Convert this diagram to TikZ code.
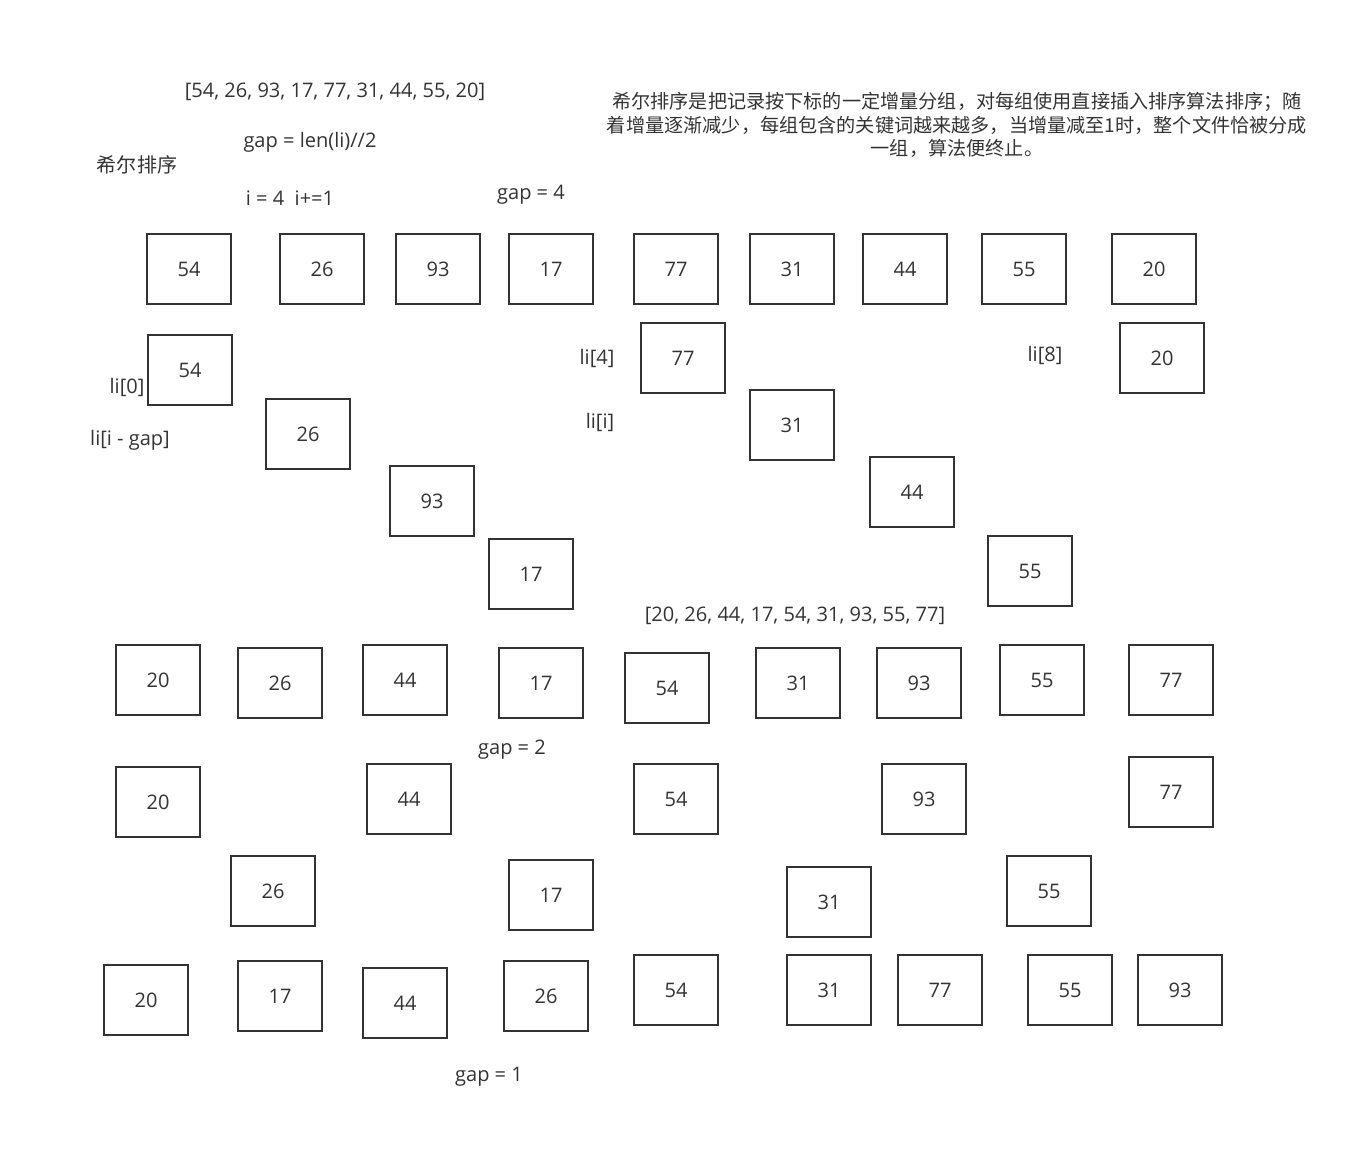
\documentclass[tikz,border=0pt]{standalone}
\usepackage{fontspec}
\setmainfont{Open Sans}
\newfontfamily\cjk{Noto Sans CJK SC}
\usetikzlibrary{positioning}
\definecolor{ink}{HTML}{333333}

\begin{document}
\begin{tikzpicture}[x=0.02cm, y=-0.02cm, font=\fontsize{11.4}{13.4}\selectfont, text=ink,
	numbox/.style={rectangle, draw=ink, line width=0.75pt, minimum width=1.68cm, minimum height=1.4cm, inner sep=0pt},
	lbl/.style={inner sep=0pt, yshift=-0.04cm}]
	\useasboundingbox (0,0) rectangle (1368,1156);
	% headings
	\node[lbl] (list1) at (335,90) {[54, 26, 93, 17, 77, 31, 44, 55, 20]};
	\node[lbl] (gaplen) at (310,140) {gap = len(li)//2};
	\node[lbl] (title) at (137,163) {\cjk 希尔排序};
	\node[lbl] (istep) at (290,196) {i = 4\ \ i+=1};
	\node[lbl] (gap4) at (531,193) {gap = 4};
	\node[lbl, align=center, font=\cjk\fontsize{10.9}{13.4}\selectfont] (desc) at (957,123)
		{希尔排序是把记录按下标的一定增量分组，对每组使用直接插入排序算法排序；随\\
		 着增量逐渐减少，每组包含的关键词越来越多，当增量减至1时，整个文件恰被分成\\
		 一组，算法便终止。};
	% first row
	\foreach \v/\x in {54/189, 26/322, 93/438, 17/551, 77/676, 31/792, 44/905, 55/1024, 20/1154}
		\node[numbox] (ra\v) at (\x,269) {\v};
	% groups for gap = 4
	\foreach \v/\x/\y in {54/190/370, 26/308/434, 93/432/501, 17/531/574, 77/683/358,
		31/792/425, 44/912/492, 55/1030/571, 20/1162/358}
		\node[numbox] (rb\v) at (\x,\y) {\v};
	\node[lbl] (li0) at (127,385) {li[0]};
	\node[lbl] (ligap) at (130,438) {li[i - gap]};
	\node[lbl] (li4) at (597,356) {li[4]};
	\node[lbl] (lii) at (600,420) {li[i]};
	\node[lbl] (li8) at (1045,353) {li[8]};
	\node[lbl] (list2) at (795,614) {[20, 26, 44, 17, 54, 31, 93, 55, 77]};
	% after gap = 4
	\foreach \v/\x/\y in {20/158/680, 26/280/683, 44/405/680, 17/541/683, 54/667/688,
		31/798/683, 93/919/683, 55/1042/680, 77/1171/680}
		\node[numbox] (rc\v) at (\x,\y) {\v};
	\node[lbl] (gap2) at (512,748) {gap = 2};
	% groups for gap = 2
	\foreach \v/\x/\y in {20/158/802, 44/409/799, 54/676/799, 93/924/799, 77/1171/792,
		26/273/891, 17/551/895, 31/829/902, 55/1049/891}
		\node[numbox] (rd\v) at (\x,\y) {\v};
	% gap = 1
	\foreach \v/\x/\y in {20/146/1000, 17/280/996, 44/405/1003, 26/546/996, 54/676/990,
		31/829/990, 77/940/990, 55/1070/990, 93/1180/990}
		\node[numbox] (re\v) at (\x,\y) {\v};
	\node[lbl] (gap1) at (489,1075) {gap = 1};
\end{tikzpicture}
\end{document}
